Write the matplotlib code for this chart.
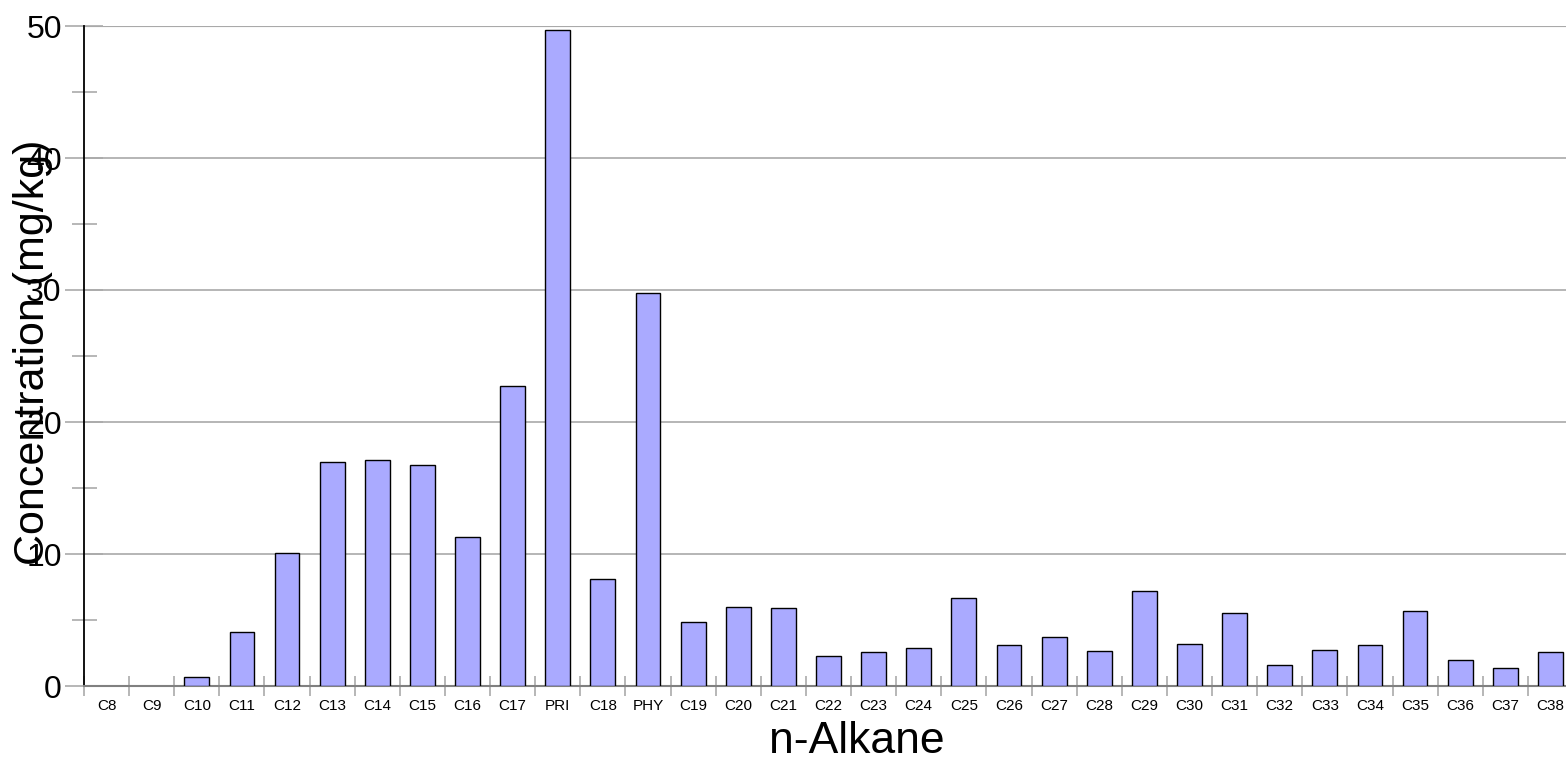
import matplotlib
matplotlib.use('Agg')
import matplotlib.pyplot as plt
import numpy as np
from matplotlib.ticker import MultipleLocator, FixedLocator

plt.rcParams['font.family'] = ['Liberation Sans', 'DejaVu Sans']

# n-alkane concentrations (mg/kg)
alkanes = ['C8', 'C9', 'C10', 'C11', 'C12', 'C13', 'C14', 'C15', 'C16', 'C17',
           'PRI', 'C18', 'PHY', 'C19', 'C20', 'C21', 'C22', 'C23', 'C24', 'C25',
           'C26', 'C27', 'C28', 'C29', 'C30', 'C31', 'C32', 'C33', 'C34', 'C35',
           'C36', 'C37', 'C38']
conc = [0.0, 0.0, 0.7, 4.1, 10.05, 16.95, 17.13, 16.73, 11.26, 22.75,
        49.7, 8.07, 29.8, 4.87, 5.97, 5.9, 2.3, 2.57, 2.87, 6.68,
        3.1, 3.7, 2.67, 7.18, 3.2, 5.5, 1.59, 2.69, 3.08, 5.67,
        2.0, 1.39, 2.57]

fig = plt.figure(figsize=(15.66, 7.62), dpi=100)
# axes runs a little past the right edge of the image, as in the original
ax = fig.add_axes([84 / 1566, 76 / 762, 1489 / 1566, 660 / 762])

x = np.arange(len(alkanes))
# no outline on empty bars
lws = [1.0 if v > 0 else 0.0 for v in conc]
ax.bar(x, conc, width=0.55, color='#aaaaff', edgecolor='black', linewidth=lws, zorder=3)

ax.set_xlim(-0.5, len(alkanes) - 0.5)
ax.set_ylim(0, 50)

# y axis: labelled majors every 10, minors every 5
ax.yaxis.set_major_locator(MultipleLocator(10))
ax.yaxis.set_minor_locator(FixedLocator([5, 15, 25, 35, 45]))
ax.tick_params(axis='y', which='major', direction='inout', length=28, width=1.2,
               color='#aaaaaa', labelsize=23, pad=2)
ax.tick_params(axis='y', which='minor', direction='inout', length=18, width=1.2,
               color='#aaaaaa')
ax.grid(axis='y', which='major', color='#b0b0b0', linewidth=1.3, zorder=0)

# x axis: labels at bar centres, tick marks between categories
ax.set_xticks(x)
ax.set_xticklabels(alkanes)
ax.set_xticks(np.arange(len(alkanes) + 1) - 0.5, minor=True)
ax.tick_params(axis='x', which='major', length=0, labelsize=11, pad=9)
ax.tick_params(axis='x', which='minor', direction='inout', length=14, width=1.2,
               color='#aaaaaa')

for s in ['top', 'right']:
    ax.spines[s].set_visible(False)
ax.spines['left'].set_color('black')
ax.spines['left'].set_linewidth(1.3)
ax.spines['bottom'].set_color('#808080')
ax.spines['bottom'].set_linewidth(1.5)
ax.axhline(50, color='#707070', linewidth=1.5, zorder=1)

ax.set_xlabel('n-Alkane', fontsize=32)
ax.xaxis.set_label_coords(0.519, -0.053)
ax.set_ylabel('Concentration (mg/kg)', fontsize=31)
ax.yaxis.label.set_va('center')
ax.yaxis.set_label_coords(-0.0345, 0.505)

fig.savefig('out.png', dpi=100)
